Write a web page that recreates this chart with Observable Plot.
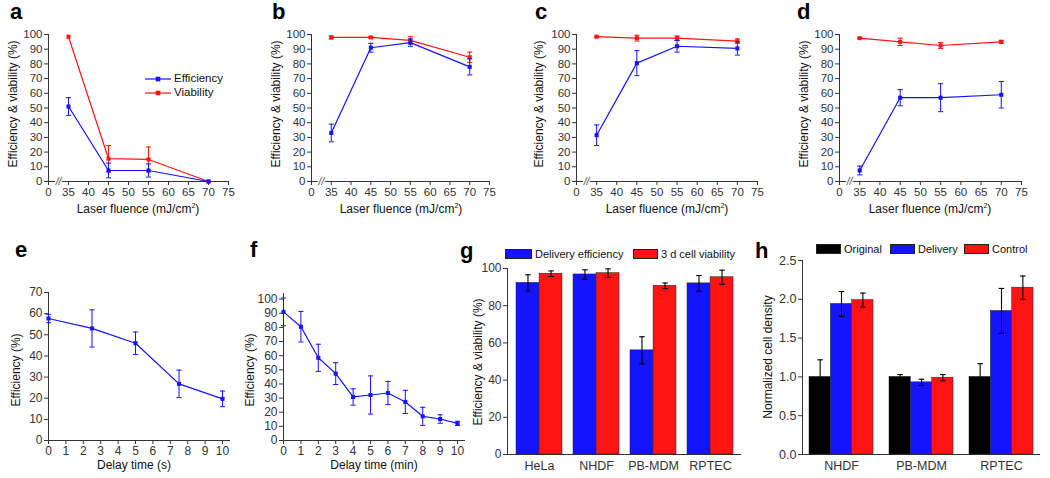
<!DOCTYPE html>
<html><head><meta charset="utf-8">
<script src="https://cdn.jsdelivr.net/npm/d3@7"></script>
<script src="https://cdn.jsdelivr.net/npm/@observablehq/plot@0.6"></script>
<style>
body{margin:0;background:#fff;font-family:"Liberation Sans",Arial,sans-serif;}
#fig{position:relative;width:1050px;height:478px;overflow:hidden;background:#fff}
#fig svg{position:absolute;overflow:visible}
.t{position:absolute;font-size:12px;color:#111;white-space:nowrap;transform:translate(-50%,-50%);line-height:1}
.t.r{transform:translate(-50%,-50%) rotate(-90deg)}
.t sup{font-size:7px;vertical-align:5px}
.L{position:absolute;font-weight:bold;font-size:22px;line-height:1;color:#000}
.lg{position:absolute;font-size:11px;color:#111;white-space:nowrap;line-height:1}
.sw{position:absolute;box-sizing:border-box;border:0.6px solid #222}
</style></head><body><div id="fig"></div><script>
// ---------------- data ----------------
const fluence = [35, 45, 55, 70];
const fluenceTicks = [30, 35, 40, 45, 50, 55, 60, 65, 70, 75]; // first tick shown as "0" (broken axis)
const pctTicks = [0, 10, 20, 30, 40, 50, 60, 70, 80, 90, 100];

const aEff = [51, 7.5, 7.5, 0],        aEffErr = [6, 5, 4.5, 0];
const aVia = [98.5, 15.5, 15, 0],      aViaErr = [0, 9, 8.5, 0];
const bEff = [33, 91, 94.5, 78],       bEffErr = [6, 3, 2.5, 5.5];
const bVia = [98, 98, 96, 84.5],       bViaErr = [1, 0.5, 2.5, 3.5];
const cEff = [31.5, 80.5, 92, 90.5],   cEffErr = [7, 8.5, 4, 4.5];
const cVia = [98.5, 97.5, 97.5, 95.5], cViaErr = [0.5, 2, 1.5, 1.5];
const dEff = [7.5, 57, 57, 59],        dEffErr = [3, 5.5, 9.5, 9];
const dVia = [97.5, 95, 92.5, 95],     dViaErr = [0.5, 2.5, 2, 1];

const delaySec = [0, 2.5, 5, 7.5, 10];
const eEff = [57.7, 53, 46, 26.8, 19.7], eErr = [2, 8.8, 5.3, 6.5, 3.7];
const delayMin = [0, 1, 2, 3, 4, 5, 6, 7, 8, 9, 10];
const fEff = [91, 80.5, 58.5, 47.3, 30.8, 32.2, 33.6, 27.3, 17.1, 15.2, 12.1];
const fErr = [9.8, 10.8, 9.6, 7.7, 5.8, 13.5, 8.2, 8.2, 6.4, 3, 1.5];
const secTicks = [0, 1, 2, 3, 4, 5, 6, 7, 8, 9, 10];

const gCells = ["HeLa", "NHDF", "PB-MDM", "RPTEC"];
const gDelivery = [92.3, 96.8, 56, 92],   gDeliveryErr = [4.3, 2.5, 7.3, 4.2];
const gViability = [97.2, 97.5, 90.7, 95.3], gViabilityErr = [1.5, 2.3, 1.5, 3.8];
const gTicks = [0, 20, 40, 60, 80, 100];

const hCells = ["NHDF", "PB-MDM", "RPTEC"];
const hOriginal = [1, 1, 1],          hOriginalErr = [0.22, 0.03, 0.17];
const hDelivery = [1.94, 0.93, 1.85], hDeliveryErr = [0.16, 0.04, 0.29];
const hControl = [1.99, 0.99, 2.15],  hControlErr = [0.09, 0.04, 0.15];
const hTicks = [0, 0.5, 1, 1.5, 2, 2.5];

// ---------------- styles ----------------
const BLUE = "#1414ff", RED = "#ff1414", BLACK = "#000";
const FONT = "Liberation Sans, Arial, sans-serif";
const fig = document.getElementById("fig");
const CAP = {draw(ctx, size) { const w = Math.sqrt(size / Math.PI); ctx.moveTo(-w, 0); ctx.lineTo(w, 0); }};

function place(svg, left, top) { svg.style.left = left + "px"; svg.style.top = top + "px"; fig.appendChild(svg); }

function linePanel(o) {
  const marks = [];
  for (const s of o.series) {
    const rows = s.x.map((x, i) => ({x, y: s.y[i], e: s.e[i]}));
    const er = rows.filter(d => d.e > 0);
    marks.push(
      Plot.ruleX(er, {x: "x", y1: d => d.y - d.e, y2: d => d.y + d.e, stroke: s.color, strokeWidth: 1}),
      Plot.dot(er, {x: "x", y: d => d.y + d.e, symbol: CAP, r: 2.6, stroke: s.color, fill: "none", strokeWidth: 1}),
      Plot.dot(er, {x: "x", y: d => d.y - d.e, symbol: CAP, r: 2.6, stroke: s.color, fill: "none", strokeWidth: 1}),
      Plot.line(rows, {x: "x", y: "y", stroke: s.color, strokeWidth: 1.2}),
      Plot.dot(rows, {x: "x", y: "y", symbol: "square", r: 2.3, fill: s.color, stroke: "none"})
    );
  }
  if (o.brk) marks.push(Plot.text([0], {x: (o.xTicks[0] + o.xTicks[1]) / 2, y: o.yDomain[0], text: () => "//",
    fill: "#444", stroke: "white", strokeWidth: 3, fontSize: 10, fontStyle: "italic"}));
  const svg = Plot.plot({
    width: o.width, height: o.height,
    marginLeft: o.pl - o.left, marginRight: o.left + o.width - o.pr,
    marginTop: o.pt - o.top, marginBottom: o.top + o.height - o.pb,
    x: {domain: o.xDomain, ticks: o.xTicks, tickFormat: o.xFmt, tickSize: 4, tickPadding: 2, label: null, line: true},
    y: {domain: o.yDomain, ticks: o.yTicks, tickSize: 4, tickPadding: 2, label: null, line: true},
    style: {fontFamily: FONT, fontSize: o.fs + "px", color: "#333", background: "transparent", overflow: "visible"},
    marks
  });
  place(svg, o.left, o.top);
}

function barPanel(o) {
  const n = o.series.length;
  const band = d3.scaleBand().domain(o.cats).range([o.pl, o.pr]).paddingInner(o.pi).paddingOuter(o.po).align(o.align);
  const bw = band.bandwidth();
  const marks = [];
  o.series.forEach((s, k) => {
    const rows = o.cats.map((c, i) => ({c, v: s.v[i], e: s.e[i]}));
    const dx = (k + 0.5) * bw / n - bw / 2;
    marks.push(
      Plot.barY(rows, {x: "c", y: "v", fill: s.color, stroke: "#222", strokeWidth: 0.5,
        insetLeft: k * bw / n, insetRight: (n - 1 - k) * bw / n}),
      Plot.ruleX(rows, {x: "c", y1: d => d.v - d.e, y2: d => d.v + d.e, dx, stroke: "#000", strokeWidth: 1.1}),
      Plot.dot(rows, {x: "c", y: d => d.v + d.e, dx, symbol: CAP, r: 2.8, stroke: "#000", fill: "none", strokeWidth: 1.1}),
      Plot.dot(rows, {x: "c", y: d => d.v - d.e, dx, symbol: CAP, r: 2.8, stroke: "#000", fill: "none", strokeWidth: 1.1})
    );
  });
  const svg = Plot.plot({
    width: o.width, height: o.height,
    marginLeft: o.pl - o.left, marginRight: o.left + o.width - o.pr,
    marginTop: o.pt - o.top, marginBottom: o.top + o.height - o.pb,
    x: {domain: o.cats, paddingInner: o.pi, paddingOuter: o.po, align: o.align, tickSize: 0, tickPadding: 7, label: null, line: true, tickFormat: d => d},
    y: {domain: o.yDomain, ticks: o.yTicks, tickFormat: o.yFmt, tickSize: 4, tickPadding: 2, label: null, line: true},
    style: {fontFamily: FONT, fontSize: o.fs + "px", color: "#333", background: "transparent", overflow: "visible"},
    marks
  });
  svg.querySelectorAll('[aria-label="x-axis tick label"] text').forEach(t => t.style.fontSize = o.catFs + "px");
  place(svg, o.left, o.top);
}

const fluenceFmt = d => d === fluenceTicks[0] ? "0" : String(d);
const fluenceDomain = [fluenceTicks[0], fluenceTicks[fluenceTicks.length - 1]];
const pctDomain = [0, 100];

// top row
linePanel({left: 0, top: 0, width: 262, height: 230, pl: 48, pr: 228, pt: 34, pb: 181,
  xDomain: fluenceDomain, xTicks: fluenceTicks, xFmt: fluenceFmt, yDomain: pctDomain, yTicks: pctTicks, brk: true, fs: 11.5,
  series: [{x: fluence, y: aVia, e: aViaErr, color: RED}, {x: fluence, y: aEff, e: aEffErr, color: BLUE}]});
linePanel({left: 262, top: 0, width: 262, height: 230, pl: 311, pr: 489, pt: 34, pb: 181,
  xDomain: fluenceDomain, xTicks: fluenceTicks, xFmt: fluenceFmt, yDomain: pctDomain, yTicks: pctTicks, brk: true, fs: 11.5,
  series: [{x: fluence, y: bVia, e: bViaErr, color: RED}, {x: fluence, y: bEff, e: bEffErr, color: BLUE}]});
linePanel({left: 524, top: 0, width: 262, height: 230, pl: 576, pr: 757, pt: 34, pb: 181,
  xDomain: fluenceDomain, xTicks: fluenceTicks, xFmt: fluenceFmt, yDomain: pctDomain, yTicks: pctTicks, brk: true, fs: 11.5,
  series: [{x: fluence, y: cVia, e: cViaErr, color: RED}, {x: fluence, y: cEff, e: cEffErr, color: BLUE}]});
linePanel({left: 786, top: 0, width: 264, height: 230, pl: 839, pr: 1021, pt: 34, pb: 181,
  xDomain: fluenceDomain, xTicks: fluenceTicks, xFmt: fluenceFmt, yDomain: pctDomain, yTicks: pctTicks, brk: true, fs: 11.5,
  series: [{x: fluence, y: dVia, e: dViaErr, color: RED}, {x: fluence, y: dEff, e: dEffErr, color: BLUE}]});

// bottom row
linePanel({left: 0, top: 230, width: 250, height: 248, pl: 48, pr: 229, pt: 292, pb: 440,
  xDomain: [0, 10.4], xTicks: secTicks, xFmt: d => String(d), yDomain: [0, 70], yTicks: [0, 10, 20, 30, 40, 50, 60, 70], fs: 12,
  series: [{x: delaySec, y: eEff, e: eErr, color: BLUE}]});
linePanel({left: 250, top: 230, width: 210, height: 248, pl: 283, pr: 464, pt: 293, pb: 440,
  xDomain: [0, 10.4], xTicks: secTicks, xFmt: d => String(d), yDomain: [0, 104], yTicks: pctTicks, fs: 12,
  series: [{x: delayMin, y: fEff, e: fErr, color: BLUE}]});
barPanel({left: 440, top: 230, width: 310, height: 248, pl: 507, pr: 740, pt: 268, pb: 454,
  cats: gCells, pi: 0.2, po: 0.12, align: 0.55, yDomain: [0, 100], yTicks: gTicks, yFmt: d => String(d), fs: 12, catFs: 12.5,
  series: [{v: gDelivery, e: gDeliveryErr, color: BLUE}, {v: gViability, e: gViabilityErr, color: RED}]});
barPanel({left: 750, top: 230, width: 300, height: 248, pl: 802, pr: 1039, pt: 260, pb: 454,
  cats: hCells, pi: 0.2, po: 0.08, align: 0.5, yDomain: [0, 2.5], yTicks: hTicks, yFmt: d3.format(".1f"), fs: 12.5, catFs: 12.5,
  series: [{v: hOriginal, e: hOriginalErr, color: BLACK}, {v: hDelivery, e: hDeliveryErr, color: BLUE}, {v: hControl, e: hControlErr, color: RED}]});

// ---------------- texts ----------------
function txt(html, x, y, rot, fs) {
  const d = document.createElement("div");
  d.className = "t" + (rot ? " r" : "");
  d.innerHTML = html; d.style.left = x + "px"; d.style.top = y + "px";
  if (fs) d.style.fontSize = fs + "px";
  fig.appendChild(d);
}
function letter(s, x, y) {
  const d = document.createElement("div"); d.className = "L"; d.textContent = s;
  d.style.left = x + "px"; d.style.top = y + "px"; fig.appendChild(d);
}
const yPct = "Efficiency &amp; viability (%)";
const xFl = "Laser fluence (mJ/cm<sup>2</sup>)";
txt(yPct, 13, 104, true); txt(xFl, 138, 208);
txt(yPct, 276, 104, true); txt(xFl, 401, 208);
txt(yPct, 539, 104, true); txt(xFl, 667, 208);
txt(yPct, 804, 104, true); txt(xFl, 930, 208);
txt("Efficiency (%)", 16, 370, true); txt("Delay time (s)", 134, 465);
txt("Efficiency (%)", 250, 370, true); txt("Delay time (min)", 374, 465);
txt(yPct, 478, 362, true);
txt("Normalized cell density", 768, 357, true);

letter("a", 10, 1); letter("b", 272, 1); letter("c", 535, 1); letter("d", 797, 1);
letter("e", 15, 239); letter("f", 250, 239); letter("g", 460, 240); letter("h", 755, 240);

// legend in panel a
function lineKey(x, y, color, label) {
  const s = d3.create("svg").attr("width", 26).attr("height", 8);
  s.append("line").attr("x1", 0).attr("x2", 26).attr("y1", 4).attr("y2", 4).attr("stroke", color).attr("stroke-width", 1.2);
  s.append("rect").attr("x", 10.7).attr("y", 1.7).attr("width", 4.6).attr("height", 4.6).attr("fill", color);
  const el = s.node(); el.style.left = x + "px"; el.style.top = (y - 4) + "px"; fig.appendChild(el);
  const d = document.createElement("div"); d.className = "lg"; d.textContent = label;
  d.style.left = (x + 29) + "px"; d.style.top = (y - 6.5) + "px"; d.style.fontSize = "11.5px"; fig.appendChild(d);
}
lineKey(145, 79, BLUE, "Efficiency");
lineKey(145, 93, RED, "Viability");

function boxKey(x, y, color, label, w) {
  const b = document.createElement("div"); b.className = "sw";
  Object.assign(b.style, {left: x + "px", top: y + "px", width: w + "px", height: "10px", background: color});
  fig.appendChild(b);
  const d = document.createElement("div"); d.className = "lg"; d.textContent = label;
  d.style.left = (x + w + 3) + "px"; d.style.top = (y) + "px"; fig.appendChild(d);
}
boxKey(505, 249, BLUE, "Delivery efficiency", 27);
boxKey(633, 249, RED, "3 d cell viability", 25);
boxKey(816, 244, BLACK, "Original", 25);
boxKey(890, 244, BLUE, "Delivery", 25);
boxKey(964, 244, RED, "Control", 25);
</script></body></html>
